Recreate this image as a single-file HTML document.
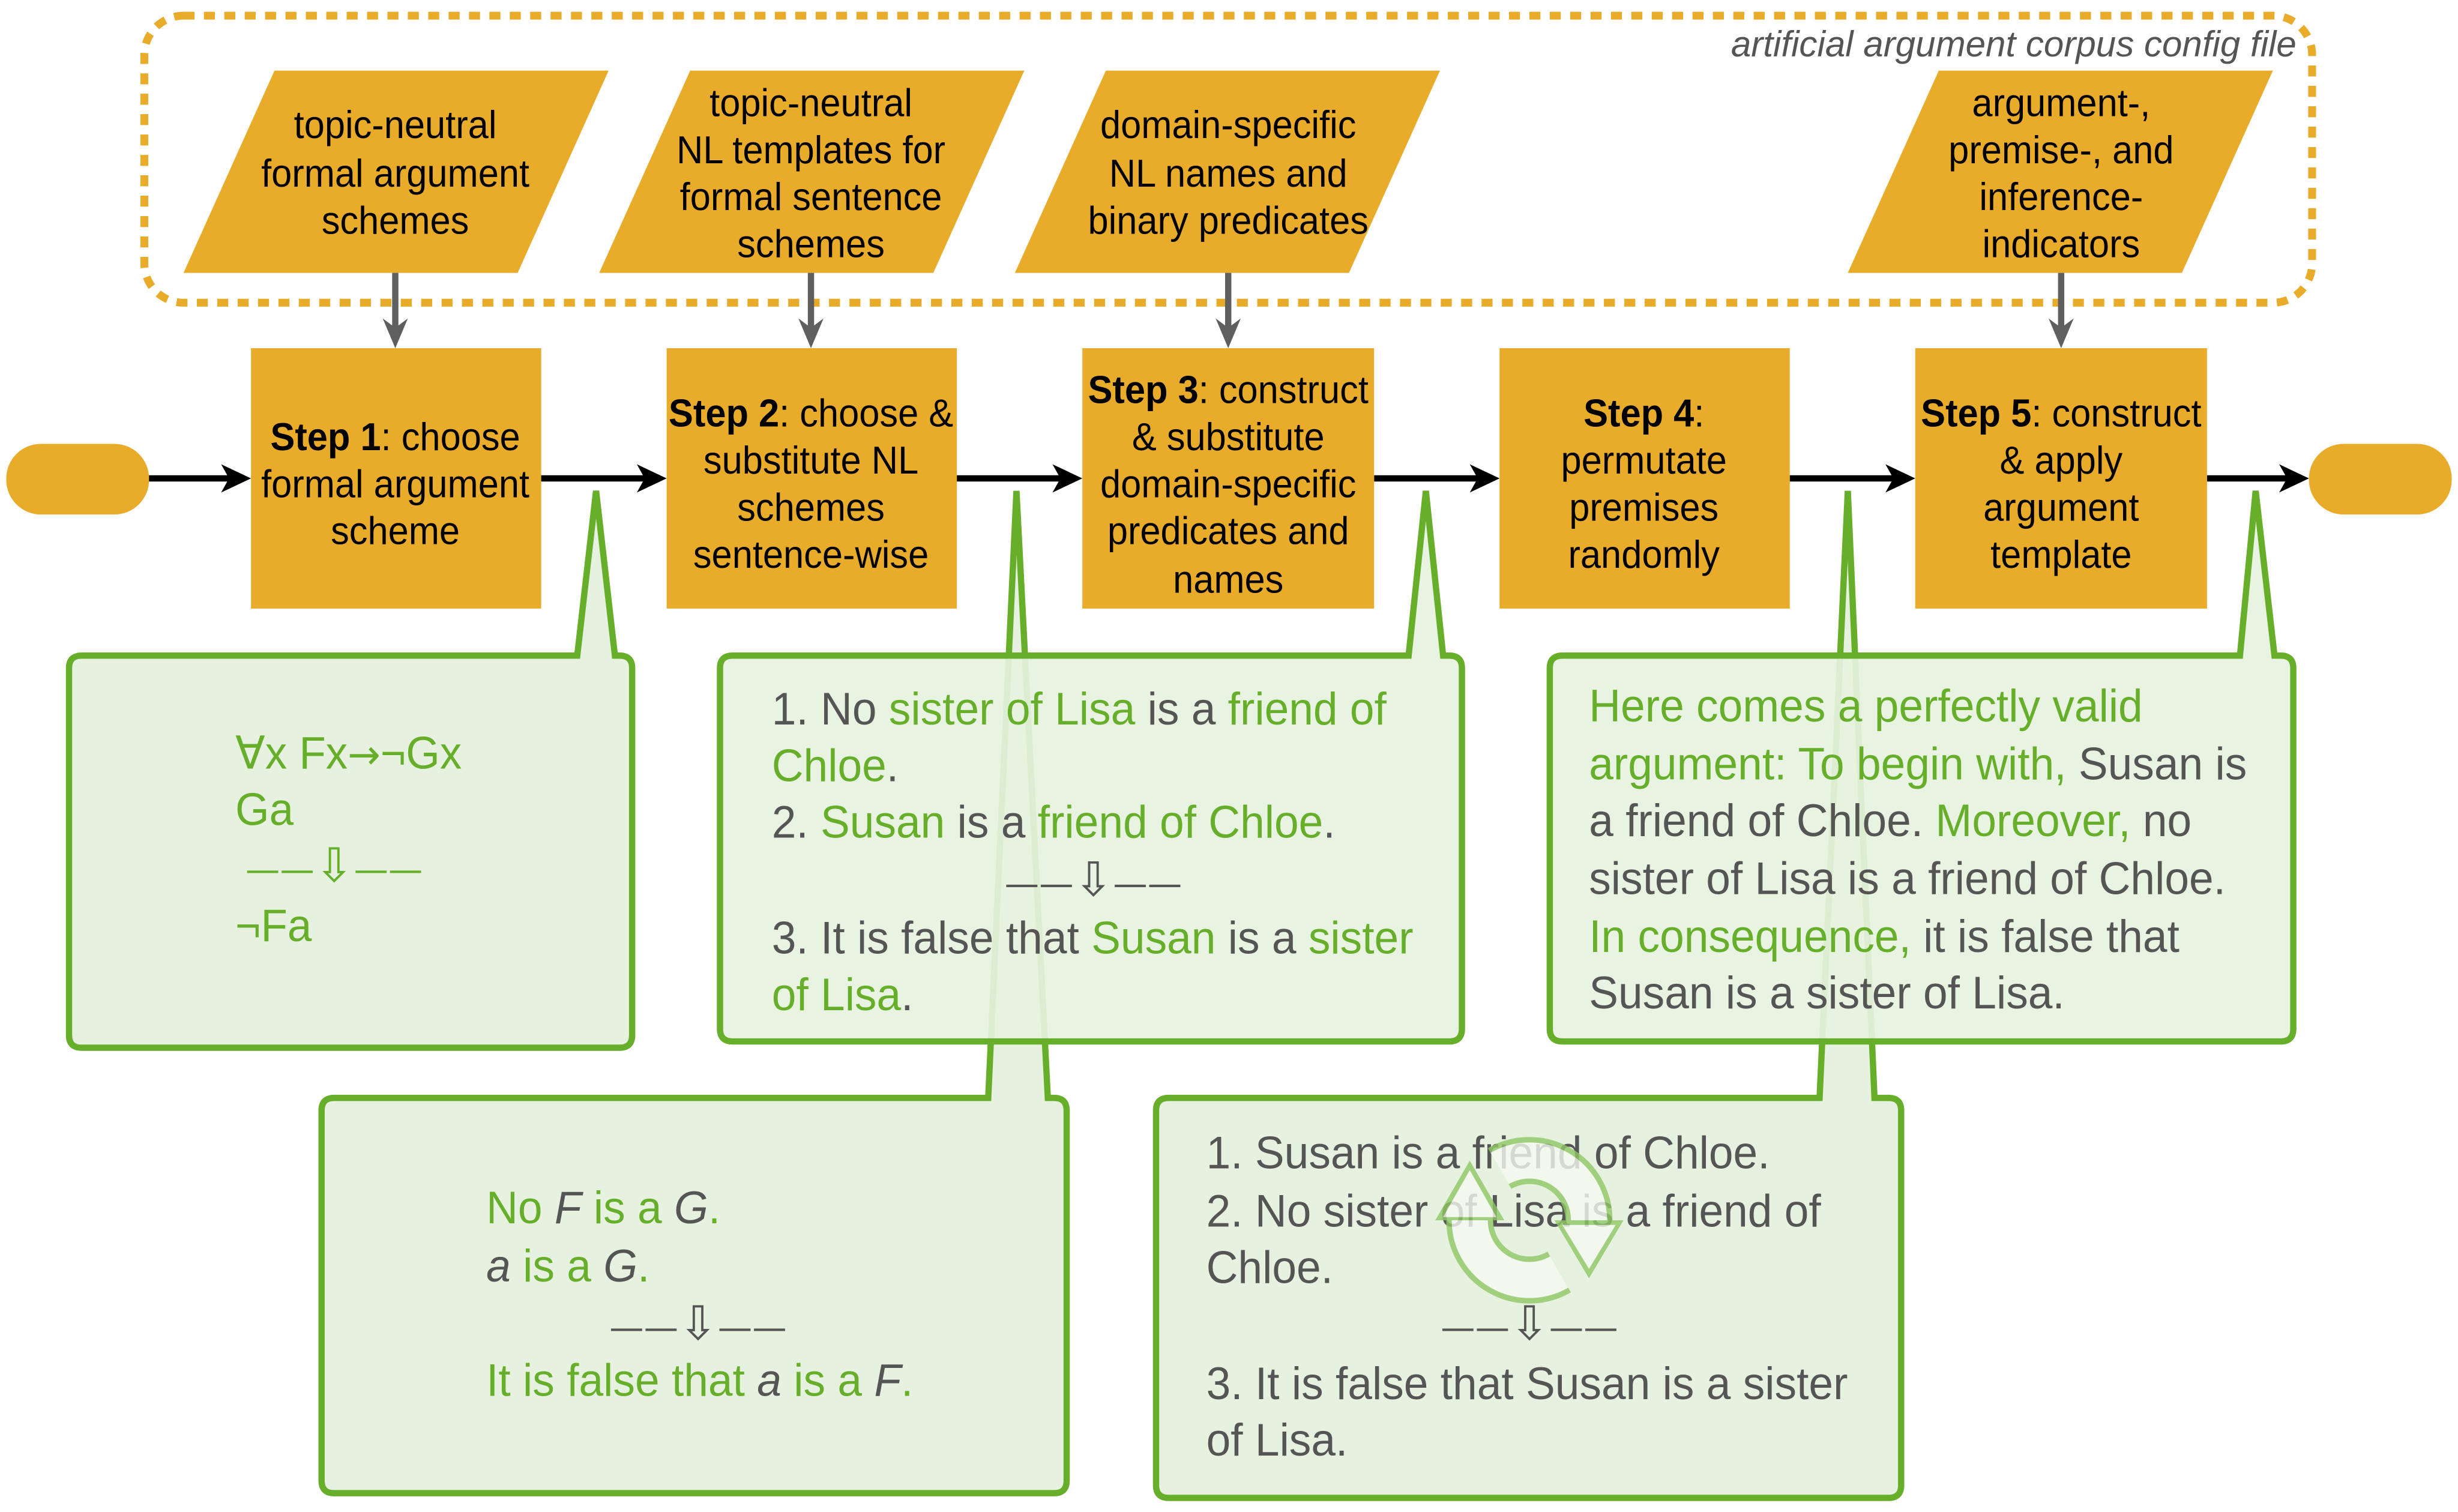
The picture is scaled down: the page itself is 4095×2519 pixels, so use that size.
<!DOCTYPE html>
<html><head><meta charset="utf-8"><style>
html,body{margin:0;padding:0;background:#fff;}
svg{display:block;}
text{font-family:"Liberation Sans Narrow","Liberation Sans","DejaVu Sans",sans-serif;}
.st{font-size:25px;fill:#000;text-anchor:middle;}
.cb{font-size:29px;fill:#555;}
.g{fill:#67AE2B;}
.d{fill:#555;}
.i{font-style:italic;}
.ar{font-family:"DejaVu Sans",sans-serif;font-size:22px;text-anchor:middle;}
.ar tspan.big{font-size:30px;}
</style></head><body>
<svg width="4095" height="2519" viewBox="0 0 1567 964" preserveAspectRatio="none" xmlns="http://www.w3.org/2000/svg">
<rect x="0" y="0" width="1567" height="964" fill="#fff"/>
<rect x="92" y="10" width="1382" height="183" rx="25" fill="none" stroke="#E9AB2A" stroke-width="5" stroke-dasharray="7 6"/>
<g transform="translate(1464,36) scale(1.0,1)"><text x="0" y="0" font-size="23" font-style="italic" fill="#555" text-anchor="end">artificial argument corpus config file</text></g>

<g fill="#E9AB2A">
<polygon points="175,45 388,45 330,174 117,174"/>
<polygon points="440,45 653,45 595,174 382,174"/>
<polygon points="705,45 918,45 860,174 647,174"/>
<polygon points="1236,45 1449,45 1391,174 1178,174"/>
</g>
<g transform="translate(252,0) scale(0.94,1)"><text class="st" x="0" y="88">topic-neutral</text><text class="st" x="0" y="119">formal argument</text><text class="st" x="0" y="149">schemes</text></g>
<g transform="translate(517,0) scale(0.94,1)"><text class="st" x="0" y="74">topic-neutral</text><text class="st" x="0" y="104">NL templates for</text><text class="st" x="0" y="134">formal sentence</text><text class="st" x="0" y="164">schemes</text></g>
<g transform="translate(783,0) scale(0.94,1)"><text class="st" x="0" y="88">domain-specific</text><text class="st" x="0" y="119">NL names and</text><text class="st" x="0" y="149">binary predicates</text></g>
<g transform="translate(1314,0) scale(0.94,1)"><text class="st" x="0" y="74">argument-,</text><text class="st" x="0" y="104">premise-, and</text><text class="st" x="0" y="134">inference-</text><text class="st" x="0" y="164">indicators</text></g>

<g stroke="#5f5f5f" stroke-width="4">
<line x1="252" y1="174" x2="252" y2="210"/><line x1="517" y1="174" x2="517" y2="210"/><line x1="783" y1="174" x2="783" y2="210"/><line x1="1314" y1="174" x2="1314" y2="210"/>
</g>
<g fill="#5f5f5f">
<polygon points="252,222 244,203 252,209 260,203"/><polygon points="517,222 509,203 517,209 525,203"/><polygon points="783,222 775,203 783,209 791,203"/><polygon points="1314,222 1306,203 1314,209 1322,203"/>
</g>

<rect x="4" y="283" width="91" height="45" rx="22" fill="#E9AB2A"/>
<rect x="1472" y="283" width="91" height="45" rx="22" fill="#E9AB2A"/>
<g stroke="#000" stroke-width="4">
<line x1="95" y1="305" x2="150" y2="305"/><line x1="345" y1="305" x2="415" y2="305"/><line x1="610" y1="305" x2="680" y2="305"/><line x1="876" y1="305" x2="946" y2="305"/><line x1="1141" y1="305" x2="1211" y2="305"/><line x1="1407" y1="305" x2="1462" y2="305"/>
</g>
<g fill="#000">
<polygon points="160,305 141,296 146,305 141,314"/><polygon points="425,305 406,296 411,305 406,314"/><polygon points="690,305 671,296 676,305 671,314"/><polygon points="956,305 937,296 942,305 937,314"/><polygon points="1221,305 1202,296 1207,305 1202,314"/><polygon points="1472,305 1453,296 1458,305 1453,314"/>
</g>

<g fill="#E9AB2A">
<rect x="160" y="222" width="185" height="166"/><rect x="425" y="222" width="185" height="166"/><rect x="690" y="222" width="186" height="166"/><rect x="956" y="222" width="185" height="166"/><rect x="1221" y="222" width="186" height="166"/>
</g>
<g transform="translate(252,0) scale(0.94,1)"><text class="st" x="0" y="287"><tspan font-weight="bold">Step 1</tspan>: choose</text><text class="st" x="0" y="317">formal argument</text><text class="st" x="0" y="347">scheme</text></g>
<g transform="translate(517,0) scale(0.94,1)"><text class="st" x="0" y="272"><tspan font-weight="bold">Step 2</tspan>: choose &amp;</text><text class="st" x="0" y="302">substitute NL</text><text class="st" x="0" y="332">schemes</text><text class="st" x="0" y="362">sentence-wise</text></g>
<g transform="translate(783,0) scale(0.94,1)"><text class="st" x="0" y="257"><tspan font-weight="bold">Step 3</tspan>: construct</text><text class="st" x="0" y="287">&amp; substitute</text><text class="st" x="0" y="317">domain-specific</text><text class="st" x="0" y="347">predicates and</text><text class="st" x="0" y="378">names</text></g>
<g transform="translate(1048,0) scale(0.94,1)"><text class="st" x="0" y="272"><tspan font-weight="bold">Step 4</tspan>:</text><text class="st" x="0" y="302">permutate</text><text class="st" x="0" y="332">premises</text><text class="st" x="0" y="362">randomly</text></g>
<g transform="translate(1314,0) scale(0.94,1)"><text class="st" x="0" y="272"><tspan font-weight="bold">Step 5</tspan>: construct</text><text class="st" x="0" y="302">&amp; apply</text><text class="st" x="0" y="332">argument</text><text class="st" x="0" y="362">template</text></g>

<g stroke="#67AE2B" stroke-width="4" fill="#E6F2DF" stroke-linejoin="miter">
<path d="M213,700 H630 L648,313 L668,700 H672 Q680,700 680,708 V944 Q680,952 672,952 H213 Q205,952 205,944 V708 Q205,700 213,700 Z"/>
<path d="M745,700 H1160 L1178,313 L1195,700 H1204 Q1212,700 1212,708 V947 Q1212,955 1204,955 H745 Q737,955 737,947 V708 Q737,700 745,700 Z"/>
</g>
<g stroke="#67AE2B" stroke-width="4" stroke-linejoin="miter">
<path fill="#E6F2DF" d="M52,418 H368 L380,313 L392,418 H395 Q403,418 403,426 V660 Q403,668 395,668 H52 Q44,668 44,660 V426 Q44,418 52,418 Z"/>
<path fill="#E6F2DF" fill-opacity="0.93" d="M467,418 H898 L909,313 L920,418 H924 Q932,418 932,426 V656 Q932,664 924,664 H467 Q459,664 459,656 V426 Q459,418 467,418 Z"/>
<path fill="#E6F2DF" fill-opacity="0.93" d="M996,418 H1428 L1438,313 L1450,418 H1454 Q1462,418 1462,426 V656 Q1462,664 1454,664 H996 Q988,664 988,656 V426 Q988,418 996,418 Z"/>
</g>

<g transform="translate(150,0) scale(0.96,1)">
<text x="0" y="490" font-size="29" class="g">∀x Fx<tspan font-family="DejaVu Sans" font-size="26">→</tspan>¬Gx</text>
<text x="0" y="526" font-size="29" class="g">Ga</text>
<text x="0" y="600" font-size="29" class="g">¬Fa</text>
</g>
<text class="ar g" x="213" y="562">——<tspan class="big">⇩</tspan>——</text>

<g transform="translate(492,0) scale(0.965,1)">
<text class="cb" x="0" y="462">1. No <tspan class="g">sister of Lisa</tspan> is a <tspan class="g">friend of</tspan></text>
<text class="cb" x="0" y="498"><tspan class="g">Chloe</tspan>.</text>
<text class="cb" x="0" y="534">2. <tspan class="g">Susan</tspan> is a <tspan class="g">friend of Chloe</tspan>.</text>
<text class="cb" x="0" y="608">3. It is false that <tspan class="g">Susan</tspan> is a <tspan class="g">sister</tspan></text>
<text class="cb" x="0" y="644"><tspan class="g">of Lisa</tspan>.</text>
</g>
<text class="ar d" x="697" y="571">——<tspan class="big">⇩</tspan>——</text>

<g transform="translate(1013,0) scale(0.965,1)">
<text class="cb" x="0" y="460"><tspan class="g">Here comes a perfectly valid</tspan></text>
<text class="cb" x="0" y="497"><tspan class="g">argument: To begin with,</tspan> Susan is</text>
<text class="cb" x="0" y="533">a friend of Chloe. <tspan class="g">Moreover,</tspan> no</text>
<text class="cb" x="0" y="570">sister of Lisa is a friend of Chloe.</text>
<text class="cb" x="0" y="607"><tspan class="g">In consequence,</tspan> it is false that</text>
<text class="cb" x="0" y="643">Susan is a sister of Lisa.</text>
</g>

<g transform="translate(310,0) scale(0.965,1)">
<text class="cb g" x="0" y="780">No <tspan class="d i">F</tspan> is a <tspan class="d i">G</tspan>.</text>
<text class="cb g" x="0" y="817"><tspan class="d i">a</tspan> is a <tspan class="d i">G</tspan>.</text>
<text class="cb g" x="0" y="890">It is false that <tspan class="d i">a</tspan> is a <tspan class="d i">F</tspan>.</text>
</g>
<text class="ar d" x="445" y="854">——<tspan class="big">⇩</tspan>——</text>

<g transform="translate(769,0) scale(0.965,1)">
<text class="cb" x="0" y="745">1. Susan is a friend of Chloe.</text>
<text class="cb" x="0" y="782">2. No sister of Lisa is a friend of</text>
<text class="cb" x="0" y="818">Chloe.</text>
<text class="cb" x="0" y="892">3. It is false that Susan is a sister</text>
<text class="cb" x="0" y="928">of Lisa.</text>
</g>
<text class="ar d" x="975" y="854">——<tspan class="big">⇩</tspan>——</text>

<!-- recycle icon -->
<g opacity="0.8">
<path d="M937,778 A38,38 0 0,0 994,811" fill="none" stroke="#8fc865" stroke-width="30"/>
<path d="M956,745 A38,38 0 0,1 1013,778" fill="none" stroke="#8fc865" stroke-width="30"/>
<polygon points="915,778 937,740 959,778" fill="#8fc865"/>
<polygon points="991,778 1035,778 1013,815" fill="#8fc865"/>
<path d="M937,778 A38,38 0 0,0 994,811" fill="none" stroke="#f6faf2" stroke-width="23"/>
<path d="M956,745 A38,38 0 0,1 1013,778" fill="none" stroke="#f6faf2" stroke-width="23"/>
<polygon points="920,776 937,746 954,776" fill="#f6faf2"/>
<polygon points="996,781 1030,781 1013,809" fill="#f6faf2"/>
</g>
</svg>
</body></html>
